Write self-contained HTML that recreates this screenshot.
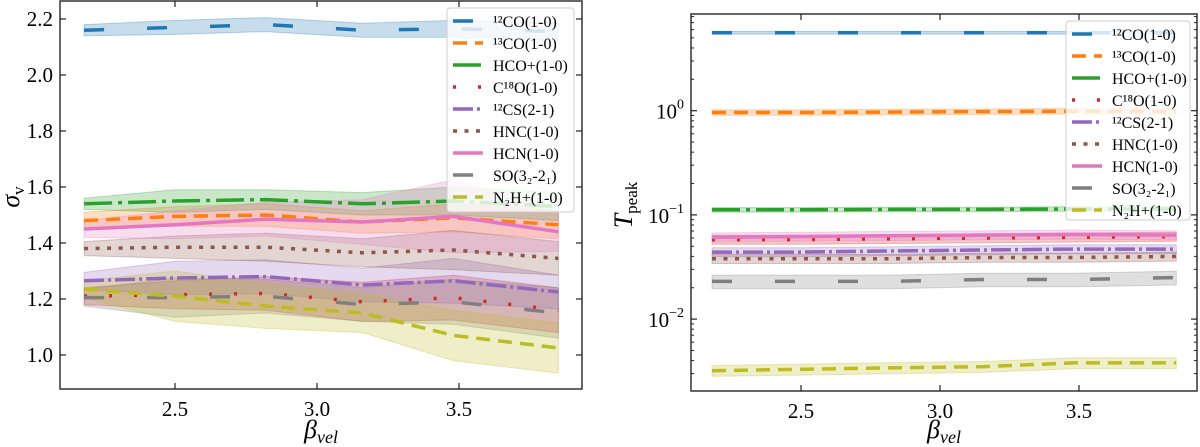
<!DOCTYPE html>
<html><head><meta charset="utf-8"><style>
html,body{margin:0;padding:0;background:#fff;}
svg{display:block;font-family:"Liberation Serif",serif;}
</style></head><body>
<svg id="fig" width="1200" height="447" viewBox="0 0 1200 447"></svg>
<script>
const names=["¹²CO(1-0)","¹³CO(1-0)","HCO+(1-0)","C¹⁸O(1-0)","¹²CS(2-1)","HNC(1-0)","HCN(1-0)","SO(3₂-2₁)","N₂H+(1-0)"];
const xs=[2.18,2.5,2.82,3.16,3.48,3.85];
const sigma=[
[2.16,2.17,2.18,2.16,2.165,2.155],
[1.48,1.495,1.50,1.475,1.49,1.465],
[1.54,1.55,1.555,1.54,1.55,1.53],
[1.21,1.215,1.22,1.19,1.205,1.16],
[1.265,1.275,1.28,1.25,1.265,1.225],
[1.38,1.385,1.385,1.365,1.375,1.345],
[1.45,1.465,1.485,1.475,1.495,1.44],
[1.205,1.205,1.21,1.18,1.19,1.15],
[1.235,1.21,1.175,1.15,1.07,1.025]];
const sigmaErr=[
[0.02,0.025,0.025,0.025,0.03,0.03],
[0.03,0.035,0.04,0.04,0.05,0.05],
[0.02,0.04,0.035,0.04,0.05,0.05],
[0.03,0.05,0.06,0.07,0.08,0.08],
[0.03,0.06,0.06,0.06,0.08,0.06],
[0.025,0.04,0.05,0.05,0.07,0.06],
[0.03,0.05,0.06,0.08,0.13,0.07],
[0.03,0.07,0.06,0.06,0.08,0.09],
[0.03,0.09,0.08,0.07,0.09,0.09]];
const tpeak=[
[5.6,5.6,5.6,5.6,5.6,5.6],
[0.96,0.96,0.97,0.98,0.99,0.98],
[0.112,0.112,0.113,0.113,0.114,0.114],
[0.058,0.058,0.059,0.06,0.061,0.062],
[0.044,0.044,0.045,0.046,0.047,0.047],
[0.038,0.038,0.038,0.039,0.039,0.04],
[0.061,0.062,0.063,0.064,0.065,0.064],
[0.023,0.023,0.023,0.024,0.024,0.025],
[0.0032,0.0033,0.0034,0.0035,0.0038,0.0038]];
const tpeakFrac=[0.03,0.06,0.05,0.1,0.1,0.1,0.1,0.15,0.12];
const colors=["#1f77b4","#ff7f0e","#2ca02c","#d62728","#9467bd","#8c564b","#e377c2","#7f7f7f","#bcbd22"];
const dashes=["20 43","14 8","28 6 4 6","3 22","20 4 3 4","4 7.5","","20 43","14 8"];
const lefTicks=[1.0,1.2,1.4,1.6,1.8,2.0,2.2];
const xTicks=[2.5,3.0,3.5];
const logTicks=[0,-1,-2];

const NS="http://www.w3.org/2000/svg";
const svg=document.getElementById("fig");
function mk(tag,attrs,parent){const e=document.createElementNS(NS,tag);for(const k in attrs)e.setAttribute(k,attrs[k]);(parent||svg).appendChild(e);return e;}

function panel(P){
  const g=mk("g",{});
  
  
  const X=v=>P.xt0+(v-2.5)*P.ppu;
  const Y=P.Y;
  for(let i=0;i<names.length;i++){
    const lo=P.lo(i),hi=P.hi(i);
    let d="M"+xs.map((x,j)=>X(x).toFixed(1)+","+Y(hi[j]).toFixed(1)).join("L");
    d+="L"+xs.map((x,j)=>X(x).toFixed(1)+","+Y(lo[j]).toFixed(1)).reverse().join("L")+"Z";
    const b=mk("path",{d:d,fill:colors[i],"fill-opacity":0.25,stroke:colors[i],"stroke-opacity":0.3,"stroke-width":1},g);
    
    
  }
  for(let i=0;i<names.length;i++){
    const v=P.vals[i];
    const pts=xs.map((x,j)=>X(x).toFixed(1)+","+Y(v[j]).toFixed(1)).join(" ");
    const l=mk("polyline",{points:pts,fill:"none",stroke:colors[i],"stroke-width":3.5,"stroke-dasharray":dashes[i]},g);
    
    
  }
  const fr=mk("rect",{x:P.x0,y:P.y0,width:P.x1-P.x0,height:P.y1-P.y0,fill:"none",stroke:"#333","stroke-width":1.5},g);
  
  
  xTicks.forEach(t=>{
    const x=X(t);
    mk("line",{x1:x,x2:x,y1:P.y1,y2:P.y1-6,stroke:"#222","stroke-width":1.2},g);
    mk("line",{x1:x,x2:x,y1:P.y0,y2:P.y0+6,stroke:"#222","stroke-width":1.2},g);
    const tx=mk("text",{x:x,y:P.y1+27,"text-anchor":"middle","font-size":21},g);
    tx.textContent=t.toFixed(1);
    
    
  });
  P.yt(g);
  const xl=mk("text",{x:(P.x0+P.x1)/2,y:438,"text-anchor":"middle","font-size":26,"font-style":"italic"},g);
  xl.innerHTML='β<tspan font-size="18" dy="5">vel</tspan>';
  
  
  const L=P.leg;
  const lg=mk("g",{},g);
  
  
  mk("rect",{x:L.x,y:L.y,width:L.w,height:L.h,rx:3,fill:"#fff","fill-opacity":0.8,stroke:"#ccc","stroke-width":1},lg);
  names.forEach((n,i)=>{
    const yy=L.y+13+i*22;
    const e=mk("g",{},lg);
    
    
    mk("line",{x1:L.x+6,x2:L.x+36,y1:yy,y2:yy,stroke:colors[i],"stroke-width":3.5,"stroke-dasharray":dashes[i]},e);
    const t=mk("text",{x:L.x+46,y:yy+6,"font-size":16},e);
    t.textContent=n;
  });
}

const LY=v=>355-(v-1.0)*280;
panel({name:"sigma-panel",x0:60,x1:582,y0:1,y1:389,xt0:175,ppu:284,Y:LY,
  vals:sigma,lo:i=>sigma[i].map((v,j)=>v-sigmaErr[i][j]),hi:i=>sigma[i].map((v,j)=>v+sigmaErr[i][j]),
  leg:{x:447,y:8,w:127,h:204},
  yt:g=>{
    lefTicks.forEach(t=>{const y=LY(t);
      mk("line",{x1:60,x2:66,y1:y,y2:y,stroke:"#222","stroke-width":1.2},g);
      mk("line",{x1:582,x2:576,y1:y,y2:y,stroke:"#222","stroke-width":1.2},g);
      const tx=mk("text",{x:53,y:y+7,"text-anchor":"end","font-size":21},g);tx.textContent=t.toFixed(1);
      
      });
    const yl=mk("text",{x:0,y:0,"font-size":26,"font-style":"italic",transform:"translate(19,197) rotate(-90)","text-anchor":"middle"},g);
    yl.innerHTML='σ<tspan font-size="17" dy="5" font-style="normal">v</tspan>';
    
    
  }});

const RY=v=>110.7-Math.log10(v)*104.2;
panel({name:"tpeak-panel",x0:691,x1:1197,y0:14,y1:391,xt0:801,ppu:278,Y:RY,
  vals:tpeak,lo:i=>tpeak[i].map(v=>v*(1-tpeakFrac[i])),hi:i=>tpeak[i].map(v=>v*(1+tpeakFrac[i])),
  leg:{x:1066,y:21,w:124,h:199},
  yt:g=>{
    for(let d=-3;d<=0;d++)for(let m=2;m<=9;m++){const y=RY(m*Math.pow(10,d));if(y<14||y>391)continue;
      mk("line",{x1:691,x2:694,y1:y,y2:y,stroke:"#222","stroke-width":1},g);
      mk("line",{x1:1197,x2:1194,y1:y,y2:y,stroke:"#222","stroke-width":1},g);}
    logTicks.forEach(t=>{const y=RY(Math.pow(10,t));
      mk("line",{x1:691,x2:697,y1:y,y2:y,stroke:"#222","stroke-width":1.2},g);
      mk("line",{x1:1197,x2:1191,y1:y,y2:y,stroke:"#222","stroke-width":1.2},g);
      const tx=mk("text",{x:684,y:y+8,"text-anchor":"end","font-size":21},g);
      tx.innerHTML='10<tspan font-size="14" dy="-10">'+(t<0?'−'+(-t):t)+'</tspan>';
      
      });
    const yl=mk("text",{x:0,y:0,"font-size":26,"font-style":"italic",transform:"translate(632,205) rotate(-90)","text-anchor":"middle"},g);
    yl.innerHTML='T<tspan font-size="17" dy="5" font-style="normal">peak</tspan>';
    
    
  }});
</script>
</body></html>
